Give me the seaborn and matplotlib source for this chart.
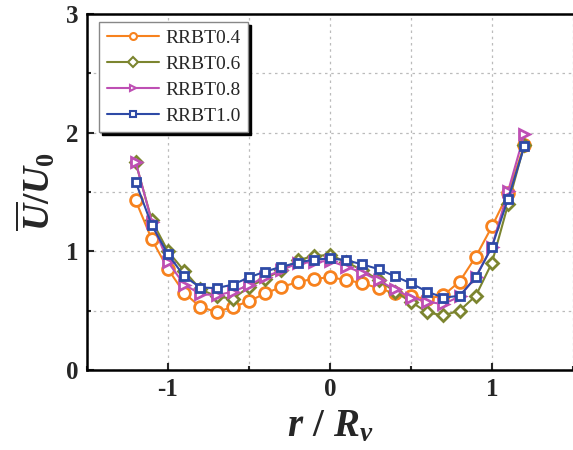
import numpy as np
import pandas as pd
import matplotlib
matplotlib.use("Agg")
import matplotlib.pyplot as plt
import seaborn as sns
from matplotlib.ticker import MultipleLocator

r = [-1.2, -1.1, -1.0, -0.9, -0.8, -0.7, -0.6, -0.5, -0.4, -0.3, -0.2, -0.1, 0.0,
     0.1, 0.2, 0.3, 0.4, 0.5, 0.6, 0.7, 0.8, 0.9, 1.0, 1.1, 1.2]
rrbt04 = [1.43, 1.10, 0.85, 0.65, 0.53, 0.49, 0.53, 0.58, 0.645, 0.70, 0.74, 0.77, 0.78,
          0.76, 0.73, 0.69, 0.645, 0.62, 0.60, 0.63, 0.745, 0.955, 1.21, 1.49, 1.90]
rrbt06 = [1.75, 1.26, 1.00, 0.835, 0.68, 0.62, 0.60, 0.70, 0.77, 0.84, 0.925, 0.96, 0.97,
          0.91, 0.84, 0.76, 0.66, 0.575, 0.485, 0.46, 0.50, 0.625, 0.905, 1.40, 1.90]
rrbt08 = [1.755, 1.25, 0.91, 0.72, 0.64, 0.63, 0.66, 0.715, 0.785, 0.84, 0.90, 0.91, 0.92,
          0.87, 0.82, 0.755, 0.68, 0.61, 0.575, 0.555, 0.62, 0.785, 1.04, 1.51, 1.99]
rrbt10 = [1.586, 1.22, 0.975, 0.79, 0.695, 0.69, 0.72, 0.78, 0.83, 0.87, 0.905, 0.93, 0.94,
          0.925, 0.89, 0.85, 0.79, 0.73, 0.66, 0.61, 0.625, 0.78, 1.04, 1.445, 1.887]
labels = ["RRBT0.4", "RRBT0.6", "RRBT0.8", "RRBT1.0"]
xticks = [-1, 0, 1]
xticklabels = ["-1", "0", "1"]
yticks = [0, 1, 2, 3]
yticklabels = ["0", "1", "2", "3"]

series = [rrbt04, rrbt06, rrbt08, rrbt10]
colors = ["#F7821E", "#7C852F", "#BE4FB4", "#2E4AA6"]
markers = ["o", "D", ">", "s"]
msizes = [8.5, 6, 7, 6]

sns.set_style("ticks")
plt.rcParams["font.family"] = ["Liberation Serif", "DejaVu Serif"]
plt.rcParams["mathtext.fontset"] = "custom"
plt.rcParams["mathtext.it"] = "Liberation Serif:italic:bold"
plt.rcParams["mathtext.bf"] = "Liberation Serif:italic:bold"
plt.rcParams["mathtext.rm"] = "Liberation Serif:bold"

fig = plt.figure(figsize=(5.73, 4.5), dpi=100)
ax = fig.add_axes([87 / 573, 80 / 450, 486 / 573, 356 / 450])

for vals, lab, c, m, ms in zip(series, labels, colors, markers, msizes):
    df = pd.DataFrame({"r": r, "U": vals})
    sns.lineplot(data=df, x="r", y="U", ax=ax, color=c, marker=m, markersize=ms,
                 markerfacecolor="white", markeredgecolor=c, markeredgewidth=2,
                 linewidth=1.5, label=lab, zorder=3)

ax.set_xlim(-1.5, 1.5)
ax.set_ylim(0, 3)
ax.set_xticks(xticks)
ax.set_xticklabels(xticklabels, fontsize=18, fontweight="bold")
ax.set_yticks(yticks)
ax.set_yticklabels(yticklabels, fontsize=18, fontweight="bold")
ax.xaxis.set_minor_locator(MultipleLocator(0.5))
ax.yaxis.set_minor_locator(MultipleLocator(0.5))
ax.tick_params(which="both", direction="in", width=1.5, top=False, right=False)
ax.tick_params(which="major", length=5, pad=6)
ax.tick_params(which="minor", length=3)

ax.grid(True, which="both", linestyle=(0, (2, 3)), color="#bbbbbb", linewidth=0.9)
ax.set_axisbelow(True)

for s in ["left", "bottom", "top"]:
    ax.spines[s].set_linewidth(1.8)
    ax.spines[s].set_color("black")
ax.spines["right"].set_visible(False)

ax.set_xlabel(r"$r\ /\ R_v$", fontsize=28, labelpad=5)
ax.set_ylabel(r"$\overline{U}/U_\mathrm{0}$", fontsize=27, labelpad=6)

leg = ax.legend(loc="upper left", bbox_to_anchor=(0.025, 0.978), borderaxespad=0,
                fontsize=14, frameon=True, fancybox=False, edgecolor="#888888",
                shadow={"color": "black", "alpha": 1}, handlelength=2.7,
                labelspacing=0.42, handletextpad=0.3, borderpad=0.4)
leg.get_frame().set_linewidth(1.0)
for h in leg.legend_handles:
    h.set_markersize(5)
    h.set_markeredgewidth(1.5)

fig.savefig("out.png", dpi=100)
